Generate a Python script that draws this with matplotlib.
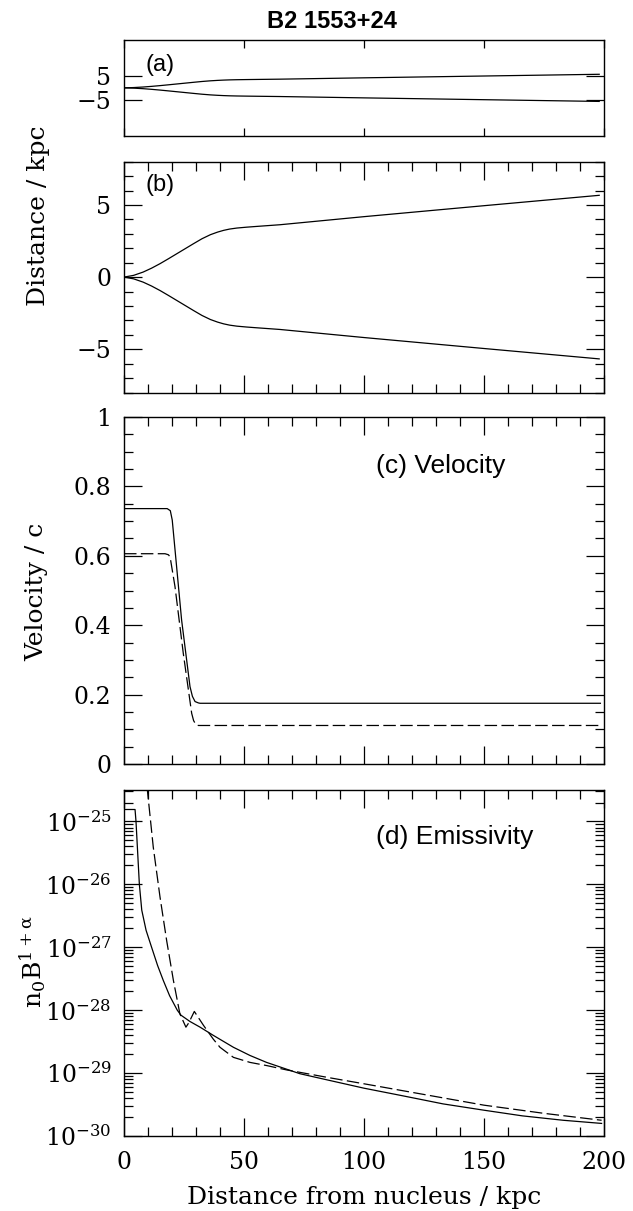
import matplotlib
matplotlib.use("Agg")
import matplotlib.pyplot as plt
from matplotlib.ticker import MultipleLocator, FixedLocator, NullFormatter, LogLocator
import numpy as np

plt.rcParams['font.family'] = ['DejaVu Serif']
plt.rcParams['mathtext.fontset'] = 'dejavuserif'

# (a), (b): jet half-width vs distance from nucleus (kpc)
edge_x = [0, 4, 8, 11.5, 15, 18.5, 22, 25.5, 29, 32.5, 36, 39, 41.5, 44, 47, 51, 55,
          65, 100, 150, 198]
edge_y = [0, 0.12, 0.35, 0.62, 0.93, 1.27, 1.62, 1.97, 2.32, 2.66, 2.94, 3.12, 3.24,
          3.33, 3.40, 3.46, 3.51, 3.63, 4.19, 4.95, 5.67]

# (c) velocity / c
vel_x = [0, 18.0, 19.3, 20.1, 24.0, 27.5, 28.5, 29.6, 31.0, 31.7, 198.5]
vel_y = [0.736, 0.736, 0.730, 0.703, 0.415, 0.223, 0.195, 0.180, 0.176, 0.175, 0.175]
vel2_x = [0, 17.1, 18.5, 19.2, 21.25, 24.7, 28.2, 29.0, 30.0, 31.0, 198.5]
vel2_y = [0.606, 0.606, 0.603, 0.597, 0.511, 0.319, 0.146, 0.125, 0.113, 0.111, 0.111]

# (d) emissivity, log10 values
emis_x = [0, 4.6, 5.0, 6.4, 7.4, 9.2, 11.5, 14.0, 16.4, 19.0, 22.2, 23.75, 27.5, 31.7,
          37.2, 45.6, 52.5, 59.4, 73.3, 87.2, 100, 116, 133, 150, 166, 183, 199]
emis_log = [-24.81, -24.81, -25.0, -26.0, -26.41, -26.73, -27.0, -27.29, -27.53, -27.77,
            -28.0, -28.08, -28.18, -28.27, -28.40, -28.59, -28.72, -28.83, -29.01,
            -29.13, -29.24, -29.36, -29.49, -29.59, -29.68, -29.75, -29.80]
emis2_x = [9.6, 12.2, 15.0, 17.8, 20.6, 23.3, 25.8, 27.0, 29.3, 33.1, 37.2, 40.0, 45.6,
           52.5, 59.4, 67.8, 75, 85, 100, 125, 150, 175, 199]
emis2_log = [-24.45, -25.41, -26.2, -26.9, -27.53, -28.06, -28.27, -28.2, -28.02, -28.24,
             -28.46, -28.59, -28.75, -28.83, -28.88, -28.95, -29.0, -29.07, -29.17,
             -29.34, -29.51, -29.64, -29.75]

W, H = 633, 1211
fig = plt.figure(figsize=(W / 100, H / 100), dpi=100)

def box(top, bottom):
    return [124 / W, 1 - bottom / H, 480 / W, (bottom - top) / H]

ax_a = fig.add_axes(box(40, 135.7))
ax_b = fig.add_axes(box(161.7, 392.5))
ax_c = fig.add_axes(box(417, 764))
ax_d = fig.add_axes(box(790, 1136))

lw = 0.9
dash = (0, (10, 3.5))
for ax in (ax_a, ax_b):
    ax.plot(edge_x, edge_y, color='black', lw=lw)
    ax.plot(edge_x, -np.array(edge_y), color='black', lw=lw)
ax_c.plot(vel_x, vel_y, color='black', lw=lw)
ax_c.plot(vel2_x, vel2_y, color='black', lw=lw, linestyle=dash)
ax_d.plot(emis_x, 10 ** np.array(emis_log), color='black', lw=lw)
ax_d.plot(emis2_x, 10 ** np.array(emis2_log), color='black', lw=lw, linestyle=dash)
ax_d.set_yscale('log')

ax_a.set_ylim(-20, 20)
ax_b.set_ylim(-8, 8)
ax_c.set_ylim(0, 1)
ax_d.set_ylim(1e-30, 10 ** -24.5)

tick_fs = 17
for ax in (ax_a, ax_b, ax_c, ax_d):
    ax.set_xlim(0, 200)
    ax.xaxis.set_major_locator(MultipleLocator(50))
    ax.xaxis.set_minor_locator(MultipleLocator(10))
    ax.tick_params(which='both', direction='in', top=True, right=True,
                   width=0.9, colors='black', labelsize=tick_fs)
    ax.tick_params(which='major', length=13)
    ax.tick_params(which='minor', length=6.5)
    ax.tick_params(axis='y', pad=9)
    ax.tick_params(axis='x', pad=11)
    for s in ax.spines.values():
        s.set_linewidth(1.0)
    if ax is not ax_d:
        ax.xaxis.set_major_formatter(NullFormatter())

# panel (a) has only a few ticks
ax_a.xaxis.set_minor_locator(FixedLocator([]))
ax_a.tick_params(axis='x', which='major', length=6)
ax_a.yaxis.set_major_locator(FixedLocator([-5, 5]))
ax_a.set_yticklabels(['\u22125', '5'])

ax_b.yaxis.set_minor_locator(MultipleLocator(1))
ax_b.yaxis.set_major_locator(FixedLocator([-5, 0, 5]))
ax_b.set_yticklabels(['\u22125', '0', '5'])

ax_c.yaxis.set_major_locator(FixedLocator([0, 0.2, 0.4, 0.6, 0.8, 1.0]))
ax_c.yaxis.set_minor_locator(MultipleLocator(0.05))
ax_c.set_yticklabels(['0', '0.2', '0.4', '0.6', '0.8', '1'])

decades = [-30, -29, -28, -27, -26, -25]
ax_d.yaxis.set_major_locator(FixedLocator([10.0 ** d for d in decades]))
ax_d.set_yticklabels([r'$10^{%d}$' % d for d in decades])
ax_d.yaxis.set_minor_locator(LogLocator(base=10, subs=np.arange(2, 10), numticks=20))
ax_d.yaxis.set_minor_formatter(NullFormatter())
ax_d.set_xticks([0, 50, 100, 150, 200])
ax_d.set_xticklabels(['0', '50', '100', '150', '200'])

# panel tags
sans = ['Liberation Sans', 'DejaVu Sans']
ax_a.text(0.044, 0.68, '(a)', transform=ax_a.transAxes, family=sans, fontsize=17, va='baseline')
ax_b.text(0.044, 0.875, '(b)', transform=ax_b.transAxes, family=sans, fontsize=17, va='baseline')
ax_c.text(0.525, 0.84, '(c) Velocity', transform=ax_c.transAxes, family=sans, fontsize=19, va='baseline')
ax_d.text(0.525, 0.845, '(d) Emissivity', transform=ax_d.transAxes, family=sans, fontsize=19, va='baseline')

fig.text(332 / W, 1 - 28.5 / H, 'B2 1553+24', family=sans, fontweight='bold', fontsize=17,
         ha='center', va='baseline')

lab_fs = 18
fig.text(39 / W, 1 - 216 / H, 'Distance / kpc', rotation=90, fontsize=lab_fs, ha='center', va='center')
fig.text(37 / W, 1 - 592 / H, 'Velocity / c', rotation=90, fontsize=lab_fs, ha='center', va='center')
fig.text(33 / W, 1 - 962 / H, r'$\mathrm{n_0B^{1+\alpha}}$', rotation=90, fontsize=lab_fs,
         ha='center', va='center')
fig.text(364 / W, 1 - 1204 / H, 'Distance from nucleus / kpc', fontsize=lab_fs,
         ha='center', va='baseline')

fig.savefig('out.png', dpi=100)
